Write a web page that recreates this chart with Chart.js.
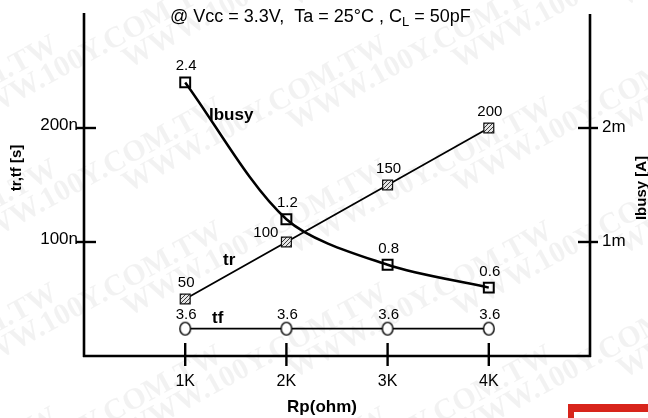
<!DOCTYPE html>
<html>
<head>
<meta charset="utf-8">
<script src="https://cdn.jsdelivr.net/npm/chart.js@4.4.1/dist/chart.umd.min.js"></script>
<style>
  html, body { margin: 0; padding: 0; background: #fff; }
  #wrap { width: 648px; height: 418px; }
</style>
</head>
<body>
<div id="wrap"><canvas id="myChart" width="648" height="418"></canvas></div>
<script>
// Rp in kOhm
const rpK = [1, 2, 3, 4];
// rise / fall times in ns, busy current in mA
const trNs = [50, 100, 150, 200];
const tfNs = [3.6, 3.6, 3.6, 3.6];
const ibusyMA = [2.4, 1.2, 0.8, 0.6];

const xTicks = [1, 2, 3, 4];
const xTickLabels = ['1K', '2K', '3K', '4K'];
const leftTicks = [100, 200];
const leftTickLabels = ['100n', '200n'];
const rightTicks = [1, 2];
const rightTickLabels = ['1m', '2m'];

const SANS = '"Liberation Sans", Arial, sans-serif';

// hatched fill for the tr squares
function makeHatch() {
  const c = document.createElement('canvas');
  c.width = 4; c.height = 4;
  const g = c.getContext('2d');
  g.fillStyle = '#e4e4e4';
  g.fillRect(0, 0, 4, 4);
  g.strokeStyle = '#3a3a3a';
  g.lineWidth = 1;
  g.beginPath();
  g.moveTo(0, 4); g.lineTo(4, 0);
  g.moveTo(-1, 1); g.lineTo(1, -1);
  g.moveTo(3, 5); g.lineTo(5, 3);
  g.stroke();
  return g.createPattern(c, 'repeat');
}

// open oval used for tf
function makeOval() {
  const c = document.createElement('canvas');
  c.width = 14; c.height = 16;
  const g = c.getContext('2d');
  g.fillStyle = '#fff';
  g.strokeStyle = '#000';
  g.lineWidth = 1.4;
  g.beginPath();
  g.ellipse(7, 8, 5.3, 6.4, 0, 0, Math.PI * 2);
  g.fill();
  g.stroke();
  return c;
}

const toPoints = (ys) => rpK.map((x, i) => ({ x: x, y: ys[i] }));

const paperPlugin = {
  id: 'paper',
  beforeDraw(chart) {
    const ctx = chart.ctx;
    ctx.save();
    ctx.fillStyle = '#fff';
    ctx.fillRect(0, 0, chart.width, chart.height);
    // faint distributor stamp across the sheet
    ctx.fillStyle = 'rgba(0,0,0,0.05)';
    ctx.font = 'bold 30px "Liberation Serif", "Times New Roman", serif';
    ctx.textBaseline = 'middle';
    for (let r = -3; r < 12; r++) {
      for (let c = -2; c < 4; c++) {
        const x = c * 330 + (r % 2) * 165 - 40;
        const y = r * 62;
        ctx.save();
        ctx.translate(x, y);
        ctx.rotate(-0.5);
        ctx.fillText('WWW.100Y.COM.TW', 0, 0);
        ctx.restore();
      }
    }
    ctx.restore();
  }
};

const framePlugin = {
  id: 'frame',
  afterDatasetsDraw(chart) {
    const ctx = chart.ctx;
    const xs = chart.scales.x, yT = chart.scales.yT, yI = chart.scales.yI;
    const area = chart.chartArea;
    const x0 = xs.getPixelForValue(0), x5 = xs.getPixelForValue(5);
    const yBase = yT.getPixelForValue(0);

    ctx.save();
    ctx.strokeStyle = '#000';
    ctx.fillStyle = '#000';
    ctx.lineWidth = 2.6;
    ctx.lineCap = 'butt';

    // axes
    ctx.beginPath();
    ctx.moveTo(x0, area.top - 1); ctx.lineTo(x0, yBase + 1);
    ctx.moveTo(x0 - 1, yBase); ctx.lineTo(x5 + 1, yBase);
    ctx.moveTo(x5, area.top); ctx.lineTo(x5, yBase + 1);
    ctx.stroke();

    // x ticks
    ctx.lineWidth = 2.4;
    ctx.font = '16px ' + SANS;
    ctx.textAlign = 'center';
    ctx.textBaseline = 'alphabetic';
    xTicks.forEach((v, i) => {
      const px = xs.getPixelForValue(v);
      ctx.beginPath();
      ctx.moveTo(px, yBase - 13); ctx.lineTo(px, yBase + 10);
      ctx.stroke();
      ctx.fillText(xTickLabels[i], px, yBase + 30);
    });

    // left ticks
    ctx.font = '17px ' + SANS;
    ctx.textAlign = 'right';
    leftTicks.forEach((v, i) => {
      const py = yT.getPixelForValue(v);
      ctx.beginPath();
      ctx.moveTo(x0 - 8, py); ctx.lineTo(x0 + 12, py);
      ctx.stroke();
      ctx.fillText(leftTickLabels[i], x0 - 6, py + 2);
    });

    // right ticks
    ctx.textAlign = 'left';
    rightTicks.forEach((v, i) => {
      const py = yI.getPixelForValue(v);
      ctx.beginPath();
      ctx.moveTo(x5 - 12, py); ctx.lineTo(x5 + 8, py);
      ctx.stroke();
      ctx.fillText(rightTickLabels[i], x5 + 12, py + 4);
    });

    // axis titles
    ctx.font = 'bold 17px ' + SANS;
    ctx.textAlign = 'center';
    ctx.fillText('Rp(ohm)', 322, 412);

    ctx.font = 'bold 15px ' + SANS;
    ctx.textBaseline = 'middle';
    ctx.save();
    ctx.translate(17, 168);
    ctx.rotate(-Math.PI / 2);
    ctx.fillText('tr,tf [s]', 0, 0);
    ctx.restore();
    ctx.save();
    ctx.translate(642, 188);
    ctx.rotate(-Math.PI / 2);
    ctx.fillText('Ibusy [A]', 0, 0);
    ctx.restore();

    // condition line with subscript
    ctx.textBaseline = 'alphabetic';
    ctx.textAlign = 'left';
    ctx.font = '18px ' + SANS;
    let tx = 170;
    const head = '@ Vcc = 3.3V,  Ta = 25°C , C';
    ctx.fillText(head, tx, 22);
    tx += ctx.measureText(head).width;
    ctx.font = '13px ' + SANS;
    ctx.fillText('L', tx, 26);
    tx += ctx.measureText('L').width;
    ctx.font = '18px ' + SANS;
    ctx.fillText(' = 50pF', tx, 22);

    // series names
    ctx.font = 'bold 17px ' + SANS;
    ctx.fillText('Ibusy', 209, 120);
    ctx.fillText('tr', 223, 265);
    ctx.fillText('tf', 212, 323);

    // value labels above the markers
    ctx.font = '15px ' + SANS;
    const valueLabel = (dsIndex, values, dy, special) => {
      const meta = chart.getDatasetMeta(dsIndex);
      meta.data.forEach((pt, i) => {
        const s = special && special[i];
        ctx.textAlign = s ? 'right' : 'center';
        const lx = s ? pt.x + s[0] : pt.x + 1;
        const ly = s ? pt.y + s[1] : pt.y + dy;
        ctx.fillText(String(values[i]), lx, ly);
      });
    };
    valueLabel(0, ibusyMA, -12);
    valueLabel(1, trNs, -12, { 1: [-8, -5] });
    valueLabel(2, tfNs, -10);

    // red corner mark
    ctx.fillStyle = '#d8241b';
    ctx.fillRect(568, 404, 80, 14);
    ctx.fillStyle = '#fff';
    ctx.fillRect(574, 412, 74, 6);

    ctx.restore();
  }
};

new Chart(document.getElementById('myChart').getContext('2d'), {
  type: 'line',
  data: {
    datasets: [
      {
        label: 'Ibusy',
        data: toPoints(ibusyMA),
        yAxisID: 'yI',
        borderColor: '#000',
        borderWidth: 2.5,
        tension: 0.3,
        pointStyle: 'rect',
        pointRadius: 7,
        pointBorderWidth: 2,
        pointBorderColor: '#000',
        pointBackgroundColor: 'rgba(0,0,0,0)'
      },
      {
        label: 'tr',
        data: toPoints(trNs),
        yAxisID: 'yT',
        borderColor: '#000',
        borderWidth: 1.8,
        tension: 0,
        pointStyle: 'rect',
        pointRadius: 7,
        pointBorderWidth: 1.2,
        pointBorderColor: '#111',
        pointBackgroundColor: makeHatch()
      },
      {
        label: 'tf',
        data: toPoints(tfNs),
        yAxisID: 'yF',
        borderColor: '#000',
        borderWidth: 1.8,
        tension: 0,
        pointStyle: makeOval(),
        pointRadius: 6
      }
    ]
  },
  options: {
    responsive: false,
    animation: false,
    events: [],
    layout: { padding: { left: 84, right: 58, top: 14, bottom: 62 } },
    plugins: { legend: { display: false }, tooltip: { enabled: false } },
    scales: {
      x: { type: 'linear', min: 0, max: 5, display: false },
      yT: { type: 'linear', min: 0, max: 300, display: false },
      yI: { type: 'linear', min: 0, max: 3, display: false },
      // tf is drawn on its own scale so the 3.6 row sits just above the base line
      yF: { type: 'linear', min: 0, max: 45, display: false }
    }
  },
  plugins: [paperPlugin, framePlugin]
});
</script>
</body>
</html>
